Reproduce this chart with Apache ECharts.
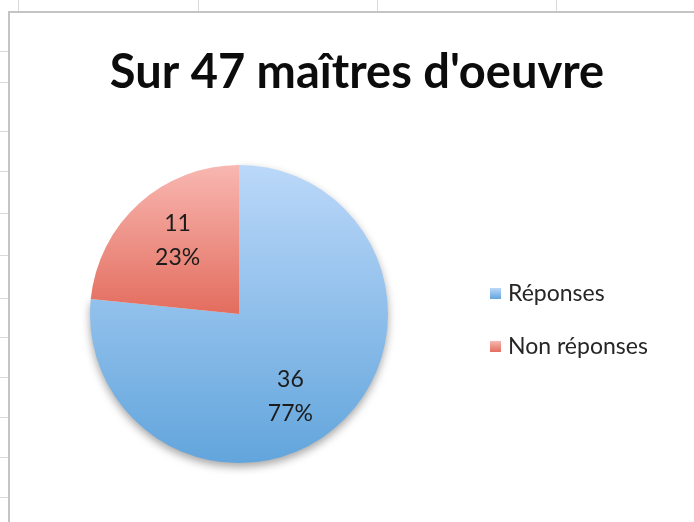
<!DOCTYPE html>
<html>
<head>
<meta charset="utf-8">
<script src="https://cdn.jsdelivr.net/npm/echarts@6/dist/echarts.min.js"></script>
<style>
  html, body { margin: 0; padding: 0; background: #fff; }
  #chart { width: 694px; height: 522px; }
</style>
</head>
<body>
<div id="chart"></div>
<script>
const titleText = "Sur 47 maîtres d'oeuvre";
const categories = ["Réponses", "Non réponses"];
const counts = [36, 11];

const FONT = "Lato, 'Open Sans', sans-serif";
const CX = 239, CY = 314, R = 149;

const fills = [
  new echarts.graphic.LinearGradient(0, 0, 0, 1, [
    { offset: 0, color: "#bbd8f9" },
    { offset: 1, color: "#62a5dc" },
  ]),
  new echarts.graphic.LinearGradient(0, 0, 0, 1, [
    { offset: 0, color: "#f8b7b1" },
    { offset: 1, color: "#e36d5e" },
  ]),
];

// spreadsheet grid behind the chart object
const sheetRows = [51, 82, 131, 171, 213, 255, 298, 337, 377, 417, 457, 497];
const sheetCols = [18, 198, 377, 556];
const sheet = [];
sheetRows.forEach((y) => sheet.push({
  type: "line", silent: true,
  shape: { x1: 0, y1: y + 0.5, x2: 8, y2: y + 0.5 },
  style: { stroke: "#d9d9d9", lineWidth: 1 },
}));
sheetCols.forEach((x) => sheet.push({
  type: "line", silent: true,
  shape: { x1: x + 0.5, y1: 0, x2: x + 0.5, y2: 11 },
  style: { stroke: "#d9d9d9", lineWidth: 1 },
}));
sheet.push({
  type: "rect", silent: true, z: -1,
  shape: { x: 9, y: 12, width: 720, height: 540 },
  style: { fill: "#fff", stroke: "#c4c4c4", lineWidth: 2 },
});

const pieData = categories.map((name, i) => ({
  name,
  value: counts[i],
  itemStyle: i === 0
    ? { color: fills[i], shadowBlur: 8, shadowOffsetY: 4, shadowColor: "rgba(0,0,0,0.35)" }
    : { color: fills[i] },
}));

const labelData = categories.map((name, i) => ({
  name,
  value: counts[i],
  label: i === 0 ? { offset: [-15, 9] } : { offset: [5, 0] },
}));

const chart = echarts.init(document.getElementById("chart"));
chart.setOption({
  backgroundColor: "#fff",
  animation: false,
  graphic: sheet,
  title: {
    text: titleText,
    left: 352,
    top: 44,
    textAlign: "center",
    textStyle: { fontFamily: FONT, fontSize: 47, fontWeight: "bold", color: "#0c0c0c" },
  },
  legend: {
    orient: "vertical",
    left: 485,
    top: 277,
    itemWidth: 11,
    itemHeight: 11,
    itemGap: 30,
    icon: "rect",
    data: categories,
    textStyle: { fontFamily: FONT, fontSize: 23, color: "#262626", padding: [0, 0, 0, 2] },
  },
  series: [
    {
      type: "pie",
      center: [CX, CY],
      radius: [0, R],
      startAngle: 90,
      clockwise: true,
      percentPrecision: 0,
      label: { show: false },
      labelLine: { show: false },
      emphasis: { scale: false },
      data: pieData,
    },
    {
      type: "pie",
      center: [CX, CY],
      radius: [Math.round(R * 0.29), R],
      startAngle: 90,
      clockwise: true,
      percentPrecision: 0,
      silent: true,
      legendHoverLink: false,
      itemStyle: { color: "rgba(0,0,0,0)" },
      label: {
        show: true,
        position: "inside",
        formatter: "{c}\n{d}%",
        fontFamily: FONT,
        fontSize: 23,
        lineHeight: 34,
        color: "#1c1c1c",
      },
      labelLine: { show: false },
      data: labelData,
    },
  ],
});
</script>
</body>
</html>
